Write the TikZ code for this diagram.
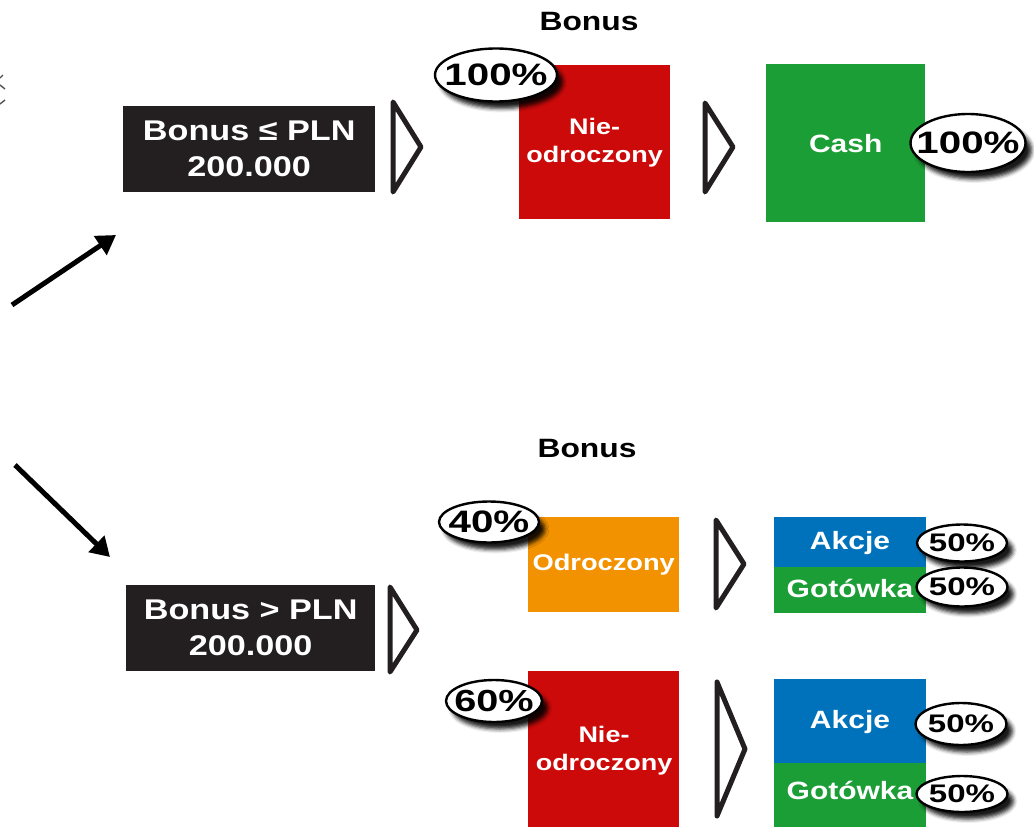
\documentclass[tikz,border=0pt]{standalone}
\usepackage{fontspec}
\setmainfont{Liberation Sans}[FakeStretch=1.2]
\newfontfamily\pctfont{Liberation Sans}[FakeStretch=1.3]
\usetikzlibrary{shapes.geometric,shadows.blur,arrows.meta}
\definecolor{dark}{HTML}{231F20}
\definecolor{cred}{HTML}{CC0A0A}
\definecolor{cgreen}{HTML}{1C9E36}
\definecolor{corange}{HTML}{F39200}
\definecolor{cblue}{HTML}{0072BB}
\begin{document}
\begin{tikzpicture}[x=1pt,y=-1pt,
  darkbox/.style={fill=dark, draw=none, inner sep=0pt, anchor=north west, text=white, align=center,
    font=\bfseries\fontsize{28.5}{36}\selectfont},
  colbox/.style={draw=none, inner sep=0pt, anchor=north west, text=white, align=center},
  boxtext/.style={inner sep=0pt, text=white, align=center},
  heading/.style={font=\bfseries\fontsize{26.5}{32}\selectfont, text=black, inner sep=0pt},
  pct/.style={ellipse, draw=black, line width=2.4pt, fill=white, inner sep=0pt,
    blur shadow={shadow xshift=6pt, shadow yshift=-7pt, shadow blur radius=4pt, shadow opacity=90}},
  pcttext/.style={inner sep=0pt, text=black},
  chev/.style={draw=dark, line width=5pt, line join=round, line cap=round},
  arr/.style={draw=black, line width=5pt, -{Triangle[length=19pt,width=22pt]}}
]
\useasboundingbox (0,0) rectangle (1034,827);

% fragment at left edge
\draw[dark!80, line width=1.4pt] (0,78) -- (3,75);
\draw[dark!80, line width=1.4pt] (0,85) -- (5,89);
\draw[dark!80, line width=1.4pt] (0,104) -- (5,100);

% arrows
\coordinate (a1s) at (12,305);
\coordinate (a1e) at (116,235);
\coordinate (a2s) at (15,465);
\coordinate (a2e) at (110,557);
\draw[arr] (a1s) -- (a1e);
\draw[arr] (a2s) -- (a2e);

% headings
\node[heading] (h1) at (589,22) {Bonus};
\node[heading] (h2) at (587,449) {Bonus};

% ===== top row =====
\node[darkbox, minimum width=252pt, minimum height=86pt] (b1) at (123,106) {Bonus ≤ PLN\\200.000};
\draw[chev] (393,102) -- (421,147) -- (393,192) -- cycle;
\node[colbox, fill=cred, minimum width=151pt, minimum height=154pt,
  font=\bfseries\fontsize{22.5}{28}\selectfont] (r1) at (519,65) {Nie-\\odroczony};
\node[pct, minimum width=122pt, minimum height=53pt] (p1) at (496,75) {};
\node[pcttext, font=\pctfont\bfseries\fontsize{31}{34}\selectfont] at (p1) {100\%};
\draw[chev] (705,103) -- (733,147) -- (705,192) -- cycle;
\node[colbox, fill=cgreen, minimum width=159pt, minimum height=158pt,
  font=\bfseries\fontsize{25}{30}\selectfont] (g1) at (766,64) {Cash};
\node[pct, minimum width=115pt, minimum height=58pt] (p2) at (968,143) {};
\node[pcttext, font=\pctfont\bfseries\fontsize{31}{34}\selectfont] at (p2) {100\%};

% ===== bottom row =====
\node[darkbox, minimum width=249pt, minimum height=86pt] (b2) at (126,585) {Bonus > PLN\\200.000};
\draw[chev] (390,587) -- (417,630) -- (390,672) -- cycle;

\node[colbox, fill=corange, minimum width=151pt, minimum height=95pt,
  font=\bfseries\fontsize{22.7}{28}\selectfont] (o1) at (528,517) {Odroczony};
\node[pct, minimum width=100pt, minimum height=41pt] (p40) at (489,522) {};
\node[pcttext, font=\pctfont\bfseries\fontsize{31}{34}\selectfont] at (p40) {40\%};
\draw[chev] (716,520) -- (744,564) -- (716,608) -- cycle;
\node[colbox, fill=cblue, minimum width=152pt, minimum height=50pt] (ak1) at (774,517) {};
\node[boxtext, font=\bfseries\fontsize{25}{30}\selectfont] at (850,543) {Akcje};
\node[colbox, fill=cgreen, minimum width=152pt, minimum height=46pt] (go1) at (774,567) {};
\node[boxtext, font=\bfseries\fontsize{25}{30}\selectfont] at (850,588) {Gotówka};
\node[pct, minimum width=90pt, minimum height=37pt] (p50a) at (962,543) {};
\node[pcttext, font=\pctfont\bfseries\fontsize{25.4}{28}\selectfont] at (p50a) {50\%};
\node[pct, minimum width=91pt, minimum height=39pt] (p50b) at (962,587) {};
\node[pcttext, font=\pctfont\bfseries\fontsize{25.4}{28}\selectfont] at (p50b) {50\%};

\node[colbox, fill=cred, minimum width=151pt, minimum height=156pt] (r2) at (528,671) {};
\node[boxtext, font=\bfseries\fontsize{22.5}{28}\selectfont] at (604,751) {Nie-\\odroczony};
\node[pct, minimum width=96pt, minimum height=42pt] (p60) at (494,701) {};
\node[pcttext, font=\pctfont\bfseries\fontsize{30.5}{34}\selectfont] at (p60) {60\%};
\draw[chev] (717,682) -- (745,749) -- (717,816) -- cycle;
\node[colbox, fill=cblue, minimum width=152pt, minimum height=84pt] (ak2) at (774,679) {};
\node[boxtext, font=\bfseries\fontsize{25}{30}\selectfont] at (850,722) {Akcje};
\node[colbox, fill=cgreen, minimum width=152pt, minimum height=64pt] (go2) at (774,763) {};
\node[boxtext, font=\bfseries\fontsize{25}{30}\selectfont] at (850,790) {Gotówka};
\node[pct, minimum width=91pt, minimum height=42pt] (p50c) at (961,724) {};
\node[pcttext, font=\pctfont\bfseries\fontsize{25.4}{28}\selectfont] at (p50c) {50\%};
\node[pct, minimum width=91pt, minimum height=36pt] (p50d) at (962,794) {};
\node[pcttext, font=\pctfont\bfseries\fontsize{25.4}{28}\selectfont] at (p50d) {50\%};
\end{tikzpicture}
\end{document}
